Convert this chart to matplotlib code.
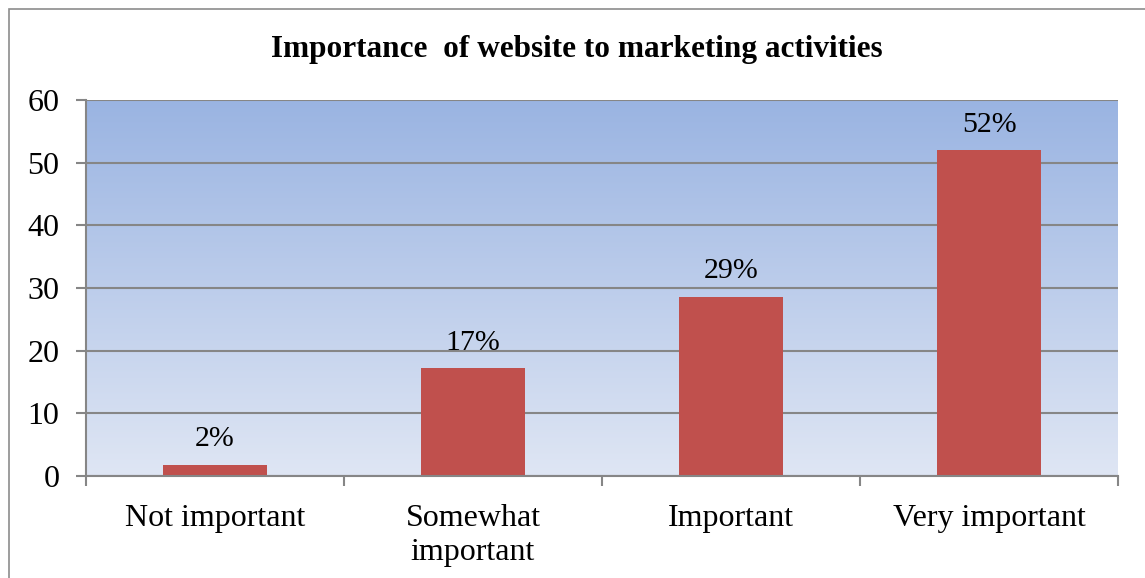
import numpy as np
import matplotlib
matplotlib.use("Agg")
import matplotlib.pyplot as plt
from matplotlib.patches import Rectangle
from matplotlib.colors import LinearSegmentedColormap

categories = ["Not important", "Somewhat\nimportant", "Important", "Very important"]
values = [1.8, 17.2, 28.6, 52.0]
labels = ["2%", "17%", "29%", "52%"]
yticks = [0, 10, 20, 30, 40, 50, 60]

plt.rcParams["font.family"] = ["Liberation Serif", "DejaVu Serif"]

fig = plt.figure(figsize=(11.45, 5.78), dpi=100)
ax = fig.add_axes([86 / 1145, 1 - 476 / 578, (1118 - 86) / 1145, (476 - 100) / 578])

# outer chart frame (left/top visible)
fig.patches.append(Rectangle((9 / 1145, -0.1), 1.2, 1 - 9 / 578 + 0.1,
                             transform=fig.transFigure, fill=False,
                             edgecolor="#8c8c8c", linewidth=1.2))

# gradient plot background
cmap = LinearSegmentedColormap.from_list("bg", ["#dfe6f4", "#9ab4e2"])
grad = np.linspace(0, 1, 256).reshape(-1, 1)
ax.imshow(grad, cmap=cmap, aspect="auto", origin="lower",
          extent=[-0.5, 3.5, 0, 60], zorder=0)

x = np.arange(len(categories))
ax.bar(x, values, width=0.405, color="#c0504d", zorder=3)
for xi, v, lab in zip(x, values, labels):
    ax.annotate(lab, (xi, v), xytext=(0, 9), textcoords="offset points",
                ha="center", va="bottom", fontsize=21.5)

ax.set_xlim(-0.5, 3.5)
ax.set_ylim(0, 60)
ax.set_yticks(yticks)
ax.grid(axis="y", color="#868686", linewidth=1.5, zorder=1)
ax.set_axisbelow(False)

ax.set_xticks(x)
ax.set_xticklabels(categories, fontsize=23, linespacing=1.25)
ax.set_xticks(np.arange(-0.5, 4, 1), minor=True)
ax.tick_params(axis="x", which="major", length=0, pad=20)
ax.tick_params(axis="x", which="minor", length=7.2, width=1.5, color="#868686")
ax.tick_params(axis="y", length=7.2, width=1.5, color="#868686", labelsize=23, pad=12)

for side in ["top", "right"]:
    ax.spines[side].set_visible(False)
for side in ["left", "bottom"]:
    ax.spines[side].set_color("#868686")
    ax.spines[side].set_linewidth(1.5)
    ax.spines[side].set_zorder(4)

fig.text(577 / 1145, 1 - 50 / 578, "Importance  of website to marketing activities",
         ha="center", va="center", fontsize=22.5, fontweight="bold")

fig.savefig("out.png", dpi=100)
